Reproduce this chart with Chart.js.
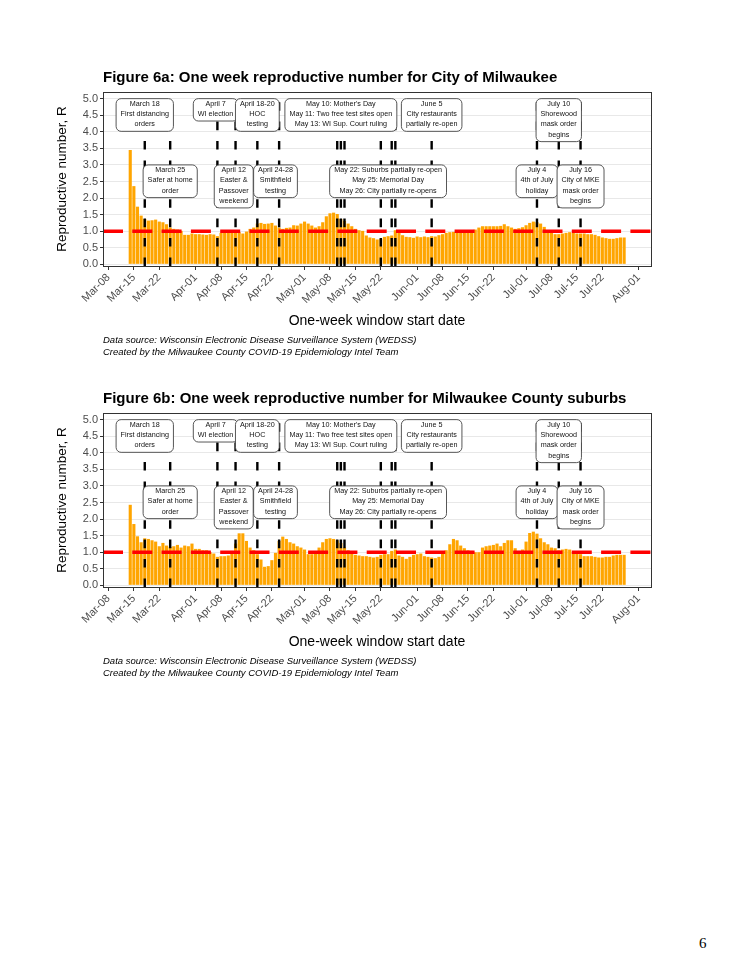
<!DOCTYPE html>
<html>
<head>
<meta charset="utf-8">
<script src="https://cdn.jsdelivr.net/npm/chart.js@4.4.1/dist/chart.umd.min.js"></script>
<style>
  html, body { margin: 0; padding: 0; background: #fff; }
  body { width: 750px; height: 971px; position: relative; overflow: hidden; }
  .fig { position: absolute; left: 0; width: 750px; height: 320px; }
  #page { position: absolute; left: 699px; top: 935px; font: 15px "Liberation Serif", "Times New Roman", serif; }
</style>
</head>
<body>
<div class="fig" style="top:50px"><canvas id="cityChart" width="750" height="320"></canvas></div>
<div class="fig" style="top:371px"><canvas id="suburbChart" width="750" height="320"></canvas></div>
<div id="page">6</div>

<script>
const FONT = '"Liberation Sans", Arial, sans-serif';

// days counted from Mar-01 (Mar-01 = 0)
const firstBarDay = 13; // Mar-14

const cityR = [
  3.45, 2.36, 1.74, 1.47, 1.37, 1.32, 1.33, 1.35, 1.29, 1.27,
  1.21, 1.11, 1.07, 1.05, 1.01, 0.89, 0.89, 0.93, 0.91, 0.91,
  0.90, 0.89, 0.91, 0.90, 0.85, 0.95, 0.95, 0.97, 0.96, 0.97,
  0.97, 0.93, 0.99, 1.07, 1.11, 1.23, 1.25, 1.22, 1.23, 1.25,
  1.17, 1.11, 1.07, 1.10, 1.11, 1.18, 1.17, 1.23, 1.29, 1.23,
  1.17, 1.11, 1.15, 1.27, 1.45, 1.54, 1.56, 1.52, 1.37, 1.31,
  1.23, 1.15, 1.07, 1.03, 1.01, 0.87, 0.81, 0.79, 0.75, 0.77,
  0.83, 0.85, 0.87, 1.03, 1.03, 0.88, 0.83, 0.82, 0.80, 0.84,
  0.82, 0.84, 0.82, 0.85, 0.84, 0.88, 0.91, 0.95, 0.97, 0.98,
  1.00, 1.03, 1.02, 1.00, 1.02, 1.05, 1.11, 1.15, 1.15, 1.15,
  1.15, 1.15, 1.16, 1.21, 1.15, 1.11, 1.07, 1.09, 1.12, 1.18,
  1.25, 1.29, 1.27, 1.23, 1.13, 1.03, 0.97, 0.91, 0.91, 0.93,
  0.95, 0.97, 0.95, 0.93, 0.93, 0.93, 0.91, 0.91, 0.89, 0.85,
  0.81, 0.79, 0.77, 0.77, 0.79, 0.81, 0.81
];

const suburbR = [
  2.43, 1.85, 1.48, 1.30, 1.42, 1.40, 1.36, 1.32, 1.18, 1.28,
  1.20, 1.16, 1.18, 1.22, 1.14, 1.20, 1.18, 1.26, 1.10, 1.10,
  1.06, 1.06, 1.00, 0.96, 0.86, 0.88, 0.88, 0.90, 1.04, 1.26,
  1.57, 1.57, 1.34, 1.14, 1.06, 0.94, 0.78, 0.56, 0.58, 0.76,
  0.98, 1.34, 1.47, 1.40, 1.30, 1.26, 1.18, 1.14, 1.08, 0.94,
  0.94, 1.00, 1.14, 1.30, 1.40, 1.42, 1.40, 1.36, 1.28, 1.14,
  1.06, 1.00, 0.92, 0.90, 0.88, 0.88, 0.86, 0.84, 0.86, 0.92,
  0.94, 0.94, 1.04, 1.08, 0.90, 0.86, 0.80, 0.86, 0.92, 0.94,
  0.96, 0.88, 0.86, 0.84, 0.82, 0.86, 0.96, 1.06, 1.24, 1.40,
  1.36, 1.20, 1.12, 1.06, 1.04, 1.00, 1.00, 1.14, 1.18, 1.20,
  1.22, 1.26, 1.18, 1.28, 1.36, 1.36, 1.12, 1.04, 1.08, 1.32,
  1.58, 1.62, 1.56, 1.42, 1.30, 1.24, 1.14, 1.12, 1.06, 1.08,
  1.10, 1.08, 1.00, 0.96, 0.94, 0.88, 0.88, 0.88, 0.86, 0.84,
  0.84, 0.86, 0.86, 0.90, 0.92, 0.92, 0.92
];

const tickDays = [7, 14, 21, 31, 38, 45, 52, 61, 68, 75, 82, 92, 99, 106, 113, 122, 129, 136, 143, 153];
const tickLabels = [
  'Mar-08', 'Mar-15', 'Mar-22', 'Apr-01', 'Apr-08', 'Apr-15', 'Apr-22',
  'May-01', 'May-08', 'May-15', 'May-22', 'Jun-01', 'Jun-08', 'Jun-15',
  'Jun-22', 'Jul-01', 'Jul-08', 'Jul-15', 'Jul-22', 'Aug-01'
];
const xMin = 5.5;
const xMax = 156.4;
const yMin = -0.05;
const yMax = 5.2;
const threshold = 1;

const eventDays = [17, 24, 37, 42, 48, 54, 70, 71, 72, 82, 85, 86, 96, 125, 131, 137];

const noteDays = [17, 36.5, 48, 71, 96, 131, 24, 41.5, 53, 84, 125, 137];
const noteTop = [5, 5, 5, 5, 5, 5, 3, 3, 3, 3, 3, 3];
const noteText = [
  ['March 18', 'First distancing', 'orders'],
  ['April 7', 'WI election'],
  ['April 18-20', 'HOC', 'testing'],
  ["May 10: Mother's Day", 'May 11: Two free test sites open', 'May 13: WI Sup. Court ruling'],
  ['June 5', 'City restaurants', 'partially re-open'],
  ['July 10', 'Shorewood', 'mask order', 'begins'],
  ['March 25', 'Safer at home', 'order'],
  ['April 12', 'Easter &', 'Passover', 'weekend'],
  ['April 24-28', 'Smithfield', 'testing'],
  ['May 22: Suburbs partially re-open', 'May 25: Memorial Day', 'May 26: City partially re-opens'],
  ['July 4', '4th of July', 'holiday'],
  ['July 16', 'City of MKE', 'mask order', 'begins']
];

const captionLines = [
  'Data source: Wisconsin Electronic Disease Surveillance System (WEDSS)',
  'Created by the Milwaukee County COVID-19 Epidemiology Intel Team'
];

Chart.defaults.font.family = FONT;

// white label boxes on top of the event lines
const notesPlugin = {
  id: 'notes',
  afterDatasetsDraw(chart) {
    const { ctx } = chart;
    const x = chart.scales.x;
    const y = chart.scales.y;

    ctx.save();
    ctx.font = `7.2px ${FONT}`;
    ctx.textAlign = 'center';
    ctx.textBaseline = 'alphabetic';

    noteText.forEach((lines, i) => {
      const cx = x.getPixelForValue(noteDays[i]);
      const top = y.getPixelForValue(noteTop[i]);
      const w = Math.max(...lines.map(t => ctx.measureText(t).width)) + 9;
      const h = 12.1 + (lines.length - 1) * 10.3;

      ctx.beginPath();
      ctx.roundRect(cx - w / 2, top, w, h, 5);
      ctx.fillStyle = '#ffffff';
      ctx.fill();
      ctx.lineWidth = 0.9;
      ctx.strokeStyle = '#444444';
      ctx.stroke();

      ctx.fillStyle = '#111111';
      lines.forEach((t, j) => ctx.fillText(t, cx, top + 7 + j * 10.3));
    });

    ctx.restore();
  }
};

// panel border, title and caption
const framePlugin = {
  id: 'frame',
  afterDraw(chart, args, opts) {
    const { ctx, chartArea: a } = chart;

    ctx.save();
    ctx.strokeStyle = '#333333';
    ctx.lineWidth = 1;
    ctx.strokeRect(
      Math.round(a.left) + 0.5,
      Math.round(a.top) + 0.5,
      Math.round(a.right - a.left),
      Math.round(a.bottom - a.top)
    );

    ctx.fillStyle = '#000000';
    ctx.textAlign = 'left';
    ctx.textBaseline = 'alphabetic';
    ctx.font = `bold 15px ${FONT}`;
    ctx.fillText(opts.title, a.left, a.top - 10.5);

    ctx.font = `italic 9.5px ${FONT}`;
    captionLines.forEach((t, i) => {
      ctx.fillText(t, a.left, a.bottom + 76.5 + i * 12);
    });
    ctx.restore();
  }
};

function criarGrafico(canvasId, serie, titulo) {
  const ctx = document.getElementById(canvasId);

  const barras = serie.map((v, i) => ({ x: firstBarDay + i, y: v }));

  const linhasEventos = eventDays.map(d => ({
    type: 'line',
    data: [{ x: d, y: yMin }, { x: d, y: yMax }],
    borderColor: '#000000',
    borderWidth: 2.4,
    borderDash: [8.6, 10.8],
    pointRadius: 0,
    order: 2
  }));

  return new Chart(ctx, {
    type: 'bar',
    data: {
      datasets: [
        {
          type: 'line',
          data: [{ x: xMin, y: threshold }, { x: xMax, y: threshold }],
          borderColor: '#ff0000',
          borderWidth: 3.6,
          borderDash: [20, 9.3],
          pointRadius: 0,
          order: 1
        },
        ...linhasEventos,
        {
          type: 'bar',
          data: barras,
          backgroundColor: '#FFA500',
          barPercentage: 1,
          categoryPercentage: 0.86,
          order: 3
        }
      ]
    },
    plugins: [notesPlugin, framePlugin],
    options: {
      responsive: false,
      animation: false,
      events: [],
      layout: {
        padding: { left: 50, right: 99, top: 42, bottom: 0 }
      },
      plugins: {
        legend: { display: false },
        tooltip: { enabled: false },
        frame: { title: titulo }
      },
      scales: {
        x: {
          type: 'linear',
          min: xMin,
          max: xMax,
          offset: false,
          border: { display: false },
          grid: {
            drawOnChartArea: false,
            offset: false,
            tickLength: 4,
            tickColor: '#333333'
          },
          afterBuildTicks: (scale) => {
            scale.ticks = tickDays.map(v => ({ value: v }));
          },
          afterFit: (scale) => {
            scale.height = 104;
          },
          ticks: {
            autoSkip: false,
            minRotation: 45,
            maxRotation: 45,
            padding: 1,
            color: '#4d4d4d',
            font: { size: 11 },
            callback: (value, index) => tickLabels[index]
          },
          title: {
            display: true,
            text: 'One-week window start date',
            color: '#000000',
            font: { size: 14 },
            padding: { top: 4, bottom: 40 }
          }
        },
        y: {
          min: yMin,
          max: yMax,
          border: { display: false },
          grid: {
            color: '#e8e8e8',
            tickLength: 3,
            tickColor: (c) => (c.tick && (c.tick.value * 2) % 1 === 0 ? '#333333' : 'rgba(0,0,0,0)')
          },
          afterBuildTicks: (scale) => {
            const ticks = [];
            for (let i = 0; i <= 20; i++) ticks.push({ value: i * 0.25 });
            scale.ticks = ticks;
          },
          afterFit: (scale) => {
            scale.width = 53;
          },
          ticks: {
            padding: 2,
            color: '#4d4d4d',
            font: { size: 11 },
            callback: (value) => ((value * 2) % 1 === 0 ? value.toFixed(1) : '')
          },
          title: {
            display: true,
            text: 'Reproductive number, R',
            color: '#000000',
            font: { size: 13.5 },
            padding: { top: 4, bottom: 4 }
          }
        }
      }
    }
  });
}

criarGrafico('cityChart', cityR, 'Figure 6a: One week reproductive number for City of Milwaukee');
criarGrafico('suburbChart', suburbR, 'Figure 6b: One week reproductive number for Milwaukee County suburbs');
</script>
</body>
</html>
